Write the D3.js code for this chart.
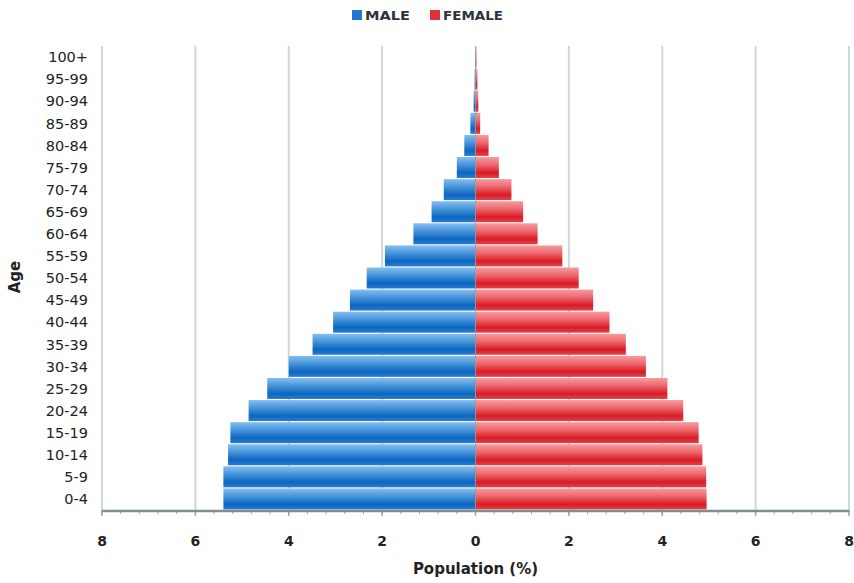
<!DOCTYPE html>
<html>
<head>
<meta charset="utf-8">
<script src="https://cdn.jsdelivr.net/npm/d3@7"></script>
<style>
  html, body { margin: 0; padding: 0; background: #fff; }
  svg { display: block; font-family: "DejaVu Sans", Verdana, sans-serif; }
</style>
</head>
<body>
<svg id="chart" width="854" height="583"></svg>
<script>
// Age groups, youngest first
const ageGroups = ["0-4","5-9","10-14","15-19","20-24","25-29","30-34","35-39","40-44","45-49",
  "50-54","55-59","60-64","65-69","70-74","75-79","80-84","85-89","90-94","95-99","100+"];
// Share of total population (%)
const maleValues = [5.40,5.40,5.30,5.25,4.86,4.46,4.00,3.49,3.05,2.69,
  2.33,1.94,1.33,0.94,0.68,0.40,0.24,0.11,0.04,0.02,0.01];
const femaleValues = [4.95,4.94,4.86,4.78,4.45,4.11,3.65,3.22,2.87,2.52,
  2.21,1.86,1.33,1.02,0.77,0.50,0.28,0.10,0.06,0.04,0.02];
const xTickValues = [-8,-6,-4,-2,0,2,4,6,8];
const seriesNames = ["MALE","FEMALE"];

const svg = d3.select("#chart");
const plotLeft = 102, plotRight = 849, plotTop = 46, plotBottom = 510;

const x = d3.scaleLinear().domain([-8, 8]).range([plotLeft, plotRight]);
const y = d3.scaleBand().domain(ageGroups.slice().reverse()).range([plotTop, plotBottom])
  .paddingInner(0.05).paddingOuter(0.025);

// Bar gradients
const defs = svg.append("defs");
function grad(id, stops) {
  const g = defs.append("linearGradient").attr("id", id).attr("x1", 0).attr("y1", 0).attr("x2", 0).attr("y2", 1);
  stops.forEach(([o, c]) => g.append("stop").attr("offset", o).attr("stop-color", c));
}
grad("gMale", [[0, "#86bfee"], [0.35, "#4a96dc"], [0.75, "#0b66c0"], [1, "#2a7cd0"]]);
grad("gFemale", [[0, "#f49ca0"], [0.35, "#ee6a70"], [0.75, "#d81c26"], [1, "#e2424a"]]);

// Vertical gridlines
svg.append("g").selectAll("line").data(xTickValues.filter(v => v !== 0)).join("line")
  .attr("x1", d => x(d)).attr("x2", d => x(d))
  .attr("y1", plotTop).attr("y2", plotBottom)
  .attr("stroke", "#cdd8dc").attr("stroke-width", 2);

// Male bars (left)
svg.append("g").selectAll("rect").data(ageGroups).join("rect")
  .attr("x", (d, i) => x(-maleValues[i]))
  .attr("y", d => y(d))
  .attr("width", (d, i) => x(0) - x(-maleValues[i]))
  .attr("height", y.bandwidth())
  .attr("fill", "url(#gMale)");

// Female bars (right)
svg.append("g").selectAll("rect").data(ageGroups).join("rect")
  .attr("x", x(0))
  .attr("y", d => y(d))
  .attr("width", (d, i) => x(femaleValues[i]) - x(0))
  .attr("height", y.bandwidth())
  .attr("fill", "url(#gFemale)");

// Center line
svg.append("line").attr("x1", x(0)).attr("x2", x(0)).attr("y1", plotTop).attr("y2", plotBottom)
  .attr("stroke", "#8a9a9c").attr("stroke-width", 1).attr("opacity", 0.8);

// Age labels
svg.append("g").selectAll("text").data(ageGroups).join("text")
  .attr("x", 88).attr("y", d => y(d) + y.bandwidth() / 2)
  .attr("dy", "0.36em").attr("text-anchor", "end")
  .attr("font-size", 14.5).attr("fill", "#222")
  .text(d => d);

// X axis with minor ticks
const minor = d3.range(-8, 8.001, 0.4);
svg.append("g").selectAll("line").data(minor).join("line")
  .attr("x1", d => x(d)).attr("x2", d => x(d))
  .attr("y1", plotBottom).attr("y2", plotBottom + 4)
  .attr("stroke", "#9aa6a8").attr("stroke-width", 1);
svg.append("g").selectAll("line").data(xTickValues).join("line")
  .attr("x1", d => x(d)).attr("x2", d => x(d))
  .attr("y1", plotBottom).attr("y2", plotBottom + 6)
  .attr("stroke", "#9aa6a8").attr("stroke-width", 1.5);
svg.append("line").attr("x1", plotLeft).attr("x2", plotRight).attr("y1", plotBottom + 1).attr("y2", plotBottom + 1)
  .attr("stroke", "#7f8f90").attr("stroke-width", 2.5);

svg.append("g").selectAll("text").data(xTickValues).join("text")
  .attr("x", d => x(d)).attr("y", 546)
  .attr("text-anchor", "middle").attr("font-size", 14).attr("font-weight", "bold").attr("fill", "#222")
  .text(d => Math.abs(d));

// Axis titles
svg.append("text").attr("x", x(0)).attr("y", 574).attr("text-anchor", "middle")
  .attr("font-size", 15).attr("font-weight", "bold").attr("fill", "#222")
  .text("Population (%)");
svg.append("text").attr("transform", "translate(20,277) rotate(-90)").attr("text-anchor", "middle")
  .attr("font-size", 15).attr("font-weight", "bold").attr("fill", "#222")
  .text("Age");

// Legend
const legendColors = ["#1f78cc", "#e0303a"];
const legendX = [352, 430];
const legendTextWidth = [45, 60];
seriesNames.forEach((name, i) => {
  svg.append("rect").attr("x", legendX[i]).attr("y", 10).attr("width", 10).attr("height", 10)
    .attr("fill", legendColors[i]);
  svg.append("text").attr("x", legendX[i] + 13).attr("y", 20)
    .attr("font-size", 13).attr("font-weight", "bold").attr("fill", "#2b3340")
    .attr("textLength", legendTextWidth[i]).attr("lengthAdjust", "spacingAndGlyphs")
    .text(name);
});
</script>
</body>
</html>
